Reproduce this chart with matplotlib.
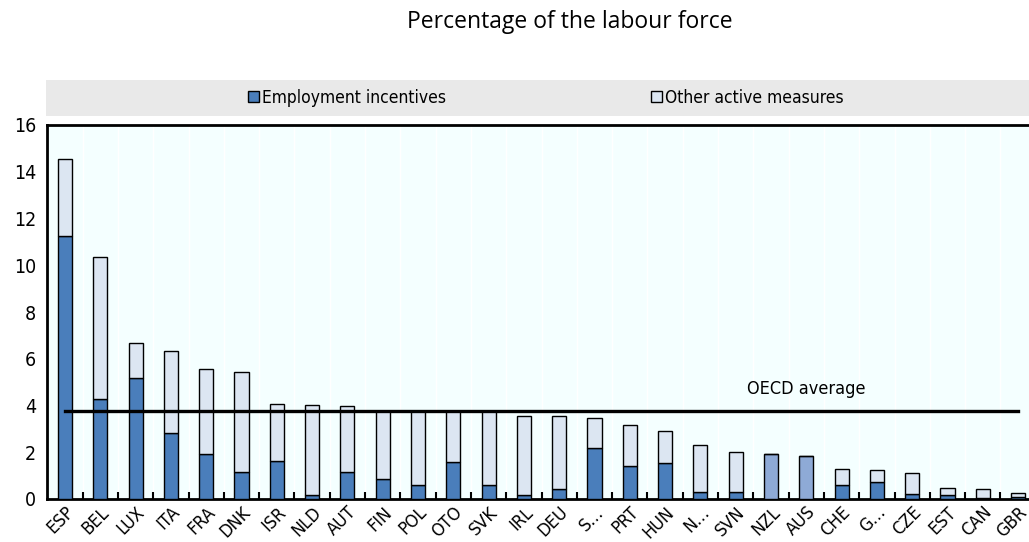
import numpy as np
import matplotlib
matplotlib.use("Agg")
import matplotlib.pyplot as plt
from matplotlib.patches import Patch, Rectangle

plt.rcParams['font.family'] = ['DejaVu Sans']
plt.rcParams['font.stretch'] = 'condensed'

countries = ["ESP", "BEL", "LUX", "ITA", "FRA", "DNK", "ISR", "NLD", "AUT", "FIN",
             "POL", "OTO", "SVK", "IRL", "DEU", "S…", "PRT", "HUN", "N…", "SVN",
             "NZL", "AUS", "CHE", "G…", "CZE", "EST", "CAN", "GBR"]
employment = [11.25, 4.26, 5.16, 2.82, 1.92, 1.17, 1.64, 0.19, 1.15, 0.84,
              0.60, 1.58, 0.60, 0.17, 0.43, 2.19, 1.41, 1.55, 0.28, 0.31,
              1.94, 1.82, 0.58, 0.73, 0.21, 0.19, 0.04, 0.10]
total = [14.53, 10.37, 6.67, 6.33, 5.56, 5.44, 4.07, 4.02, 3.96, 3.76,
         3.76, 3.76, 3.76, 3.55, 3.53, 3.48, 3.16, 2.93, 2.31, 2.02,
         1.94, 1.82, 1.27, 1.23, 1.10, 0.46, 0.41, 0.26]
other = [t - e for t, e in zip(total, employment)]
highlight = ["NZL", "AUS"]
oecd_avg = 3.76

dark_blue = "#4a7ebb"
light_blue = "#dce6f2"
mid_blue = "#8eaad6"

fig = plt.figure(figsize=(10.29, 5.42), dpi=100)
ax = fig.add_axes([47 / 1029, 1 - 499 / 542, 1 - 47 / 1029, 374 / 542])
ax.set_facecolor("#f4ffff")

x = np.arange(len(countries))
colors = [mid_blue if c in highlight else dark_blue for c in countries]
ax.bar(x, employment, width=0.4, color=colors, edgecolor="black", linewidth=1, zorder=3)
ax.bar(x, other, width=0.4, bottom=employment, color=light_blue, edgecolor="black",
       linewidth=1, zorder=3)

ax.plot([x[0], x[-1]], [oecd_avg, oecd_avg], color="black", linewidth=2.4, zorder=4)
ax.text(21.0, oecd_avg + 0.55, "OECD average", ha="center", va="bottom", fontsize=13)

ax.set_xlim(-0.51, 27.31)
ax.set_ylim(0, 16)
ax.set_yticks(np.arange(0, 17, 2))
ax.set_xticks(x)
ax.set_xticklabels(countries, rotation=45, ha="right", rotation_mode="anchor", fontsize=13)
ax.set_xticks(x[:-1] + 0.5, minor=True)
ax.tick_params(axis="x", which="major", length=0, pad=3)
ax.tick_params(axis="x", which="minor", direction="in", length=5, width=1.5, color="black")
ax.tick_params(axis="y", length=0, labelsize=14, pad=8)
ax.grid(axis="x", which="minor", color="white", linewidth=1, zorder=0)

for side in ["left", "bottom", "top"]:
    ax.spines[side].set_linewidth(2)
ax.spines["right"].set_visible(False)

# legend band
fig.patches.append(Rectangle((46 / 1029, 1 - 116 / 542), 1, 36 / 542, transform=fig.transFigure,
                             facecolor="#e9e9e9", edgecolor="none", zorder=0))
handles = [Patch(facecolor=dark_blue, edgecolor="black", label="Employment incentives"),
           Patch(facecolor=light_blue, edgecolor="black", label="Other active measures")]
fig.legend(handles=handles, ncol=2, loc="center", bbox_to_anchor=(546 / 1029, 1 - 98 / 542),
           frameon=False, fontsize=12.5, handlelength=0.6, handleheight=0.6, handletextpad=0.2,
           columnspacing=11.8)

fig.text(570 / 1029, 1 - 22 / 542, "Percentage of the labour force", ha="center", va="center",
         fontsize=16.5, family=["Open Sans", "DejaVu Sans"], stretch="normal")

fig.savefig("out.png", dpi=100)
